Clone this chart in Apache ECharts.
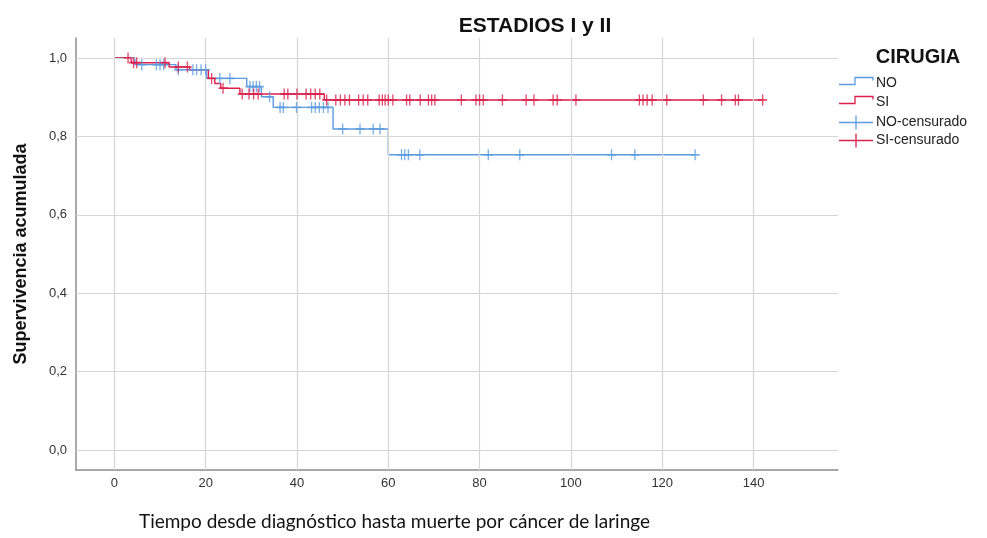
<!DOCTYPE html>
<html>
<head>
<meta charset="utf-8">
<script src="https://cdn.jsdelivr.net/npm/echarts@6/dist/echarts.min.js"></script>
<style>
  html, body { margin: 0; padding: 0; background: #fff; }
  #chart { width: 987px; height: 538px; }
</style>
</head>
<body>
<div id="chart"></div>
<script>
// Kaplan-Meier steps: [time, survival after the event]
const stepsNO = [[0, 1], [4.5, 0.983], [13.5, 0.970], [20.2, 0.948], [29, 0.927], [32.2, 0.901], [34.8, 0.874], [47.9, 0.819], [60, 0.753], [127.2, 0.753]];
const stepsSI = [[0, 1], [3.7, 0.988], [12, 0.977], [16.5, 0.970], [20.6, 0.948], [22, 0.935], [23.3, 0.923], [27.5, 0.908], [46, 0.893], [142, 0.893]];

// Censored observation times
const censNO = [6, 9.2, 10, 10.8, 14, 17.2, 18, 19, 20, 23.1, 25.3, 29.7, 30.4, 31.1, 31.8, 34, 36.3, 37, 39.9, 43.2, 44, 44.9, 45.8, 46.8, 50, 53.8, 56.7, 58.2, 62.9, 63.6, 64.4, 66.9, 81.9, 88.8, 108.9, 114, 127.2];
const censSI = [3, 4.2, 4.9, 11.1, 14, 16, 21.3, 23.8, 28, 29.5, 30.5, 31.5, 37.2, 38, 40, 42, 43, 44, 45, 46.5, 48.5, 49.5, 50.5, 51.5, 53.5, 54.5, 55.5, 58, 58.7, 59.3, 60, 61, 64, 64.7, 67, 68.8, 69.5, 70.2, 76, 79.2, 80, 80.8, 85, 90.2, 91.9, 96.1, 97, 101.1, 115, 115.8, 116.7, 117.8, 121, 129, 133, 136, 136.7, 142];

const timeTicks = [0, 20, 40, 60, 80, 100, 120, 140];
const survTicks = [0, 0.2, 0.4, 0.6, 0.8, 1.0];
const groupNames = ['NO', 'SI'];
const legendNames = ['NO', 'SI', 'NO-censurado', 'SI-censurado'];

const colNO = '#5b9be0';
const colSI = '#d91f4b';
const FONT = 'Liberation Sans, Arial, sans-serif';

// survival value of a step curve at time t
function survAt(steps, t) {
  let s = steps[0][1];
  for (const [tt, v] of steps) { if (tt <= t) s = v; else break; }
  return s;
}

const plusPath = 'path://M4.25,0H5.75V4.25H10V5.75H5.75V10H4.25V5.75H0V4.25H4.25Z';

const gridLines = [];
timeTicks.forEach(v => gridLines.push({ xAxis: v }));
survTicks.forEach(v => gridLines.push({ yAxis: v }));

// Legend block on the right: step icons for curves, tick icons for censored marks
const legendX = 839, legendY = 84, rowH = 18.8;
const legendColors = [colNO, colSI, colNO, colSI];
const legendItems = [];
legendNames.forEach((name, i) => {
  const y = Math.round(legendY + i * rowH) + 0.5;
  const c = legendColors[i];
  if (i < 2) {
    legendItems.push({ type: 'polyline', silent: true,
      shape: { points: [[legendX, y], [legendX + 16, y], [legendX + 16, y - 7], [legendX + 34, y - 7], [legendX + 34, y - 4]] },
      style: { stroke: c, lineWidth: 1.3, fill: null } });
  } else {
    legendItems.push({ type: 'line', silent: true,
      shape: { x1: legendX, y1: y, x2: legendX + 34, y2: y }, style: { stroke: c, lineWidth: 1.3 } });
    legendItems.push({ type: 'line', silent: true,
      shape: { x1: legendX + 17, y1: y - 7, x2: legendX + 17, y2: y + 7 }, style: { stroke: c, lineWidth: 1.3 } });
  }
  legendItems.push({ type: 'text', silent: true, x: legendX + 37, y: i < 2 ? y - 1 : y,
    style: { text: name, font: '14px ' + FONT, fill: '#222', verticalAlign: 'middle', textAlign: 'left' } });
});

const chart = echarts.init(document.getElementById('chart'), null, { renderer: 'canvas' });
chart.setOption({
  animation: false,
  backgroundColor: '#ffffff',
  title: [
    { text: 'ESTADIOS I y II', left: 530, top: 11, textAlign: 'center',
      textStyle: { fontFamily: FONT, fontSize: 21, fontWeight: 'bold', color: '#111' } },
    { text: 'CIRUGIA', left: 913, top: 42, textAlign: 'center',
      textStyle: { fontFamily: FONT, fontSize: 20, fontWeight: 'bold', color: '#111' } }
  ],
  graphic: legendItems,
  grid: { left: 76, right: 149, top: 38, bottom: 68 },
  xAxis: {
    type: 'value', min: -8.4, max: 158.5,
    name: 'Tiempo desde diagnóstico hasta muerte por cáncer de laringe',
    nameLocation: 'middle', nameGap: 42,
    nameTextStyle: { fontFamily: 'Lato', fontSize: 19, color: '#111', padding: [0, 0, 0, -125] },
    axisLine: { show: true, onZero: false, lineStyle: { color: '#8c8c8c', width: 1.5 } },
    axisTick: { show: false },
    splitLine: { show: false },
    axisLabel: { customValues: timeTicks, fontFamily: FONT, fontSize: 13, color: '#333', margin: 7 }
  },
  yAxis: {
    type: 'value', min: -0.051, max: 1.051,
    name: 'Supervivencia acumulada', nameLocation: 'middle', nameGap: 46,
    nameTextStyle: { fontFamily: FONT, fontSize: 18, fontWeight: 'bold', color: '#111' },
    axisLine: { show: true, onZero: false, lineStyle: { color: '#8c8c8c', width: 1.5 } },
    axisTick: { show: false },
    splitLine: { show: false },
    axisLabel: { customValues: survTicks, fontFamily: FONT, fontSize: 13, color: '#333', margin: 9,
      formatter: v => v.toFixed(1).replace('.', ',') }
  },
  series: [
    { name: 'grid', type: 'line', data: [], silent: true, z: 0,
      markLine: { silent: true, symbol: 'none', label: { show: false },
        lineStyle: { color: '#d6d6d6', type: 'solid', width: 1.2 }, data: gridLines } },
    { name: groupNames[0], type: 'line', step: 'end', data: stepsNO, showSymbol: false, symbol: 'none',
      lineStyle: { color: colNO, width: 1.4 }, itemStyle: { color: colNO }, z: 3 },
    { name: groupNames[1], type: 'line', step: 'end', data: stepsSI, showSymbol: false, symbol: 'none',
      lineStyle: { color: colSI, width: 1.4 }, itemStyle: { color: colSI }, z: 4 },
    { name: legendNames[2], type: 'scatter', data: censNO.map(t => [t, survAt(stepsNO, t)]),
      symbol: plusPath, symbolSize: [9, 11], itemStyle: { color: colNO }, z: 5 },
    { name: legendNames[3], type: 'scatter', data: censSI.map(t => [t, survAt(stepsSI, t)]),
      symbol: plusPath, symbolSize: [9, 11], itemStyle: { color: colSI }, z: 6 }
  ]
});
</script>
</body>
</html>
